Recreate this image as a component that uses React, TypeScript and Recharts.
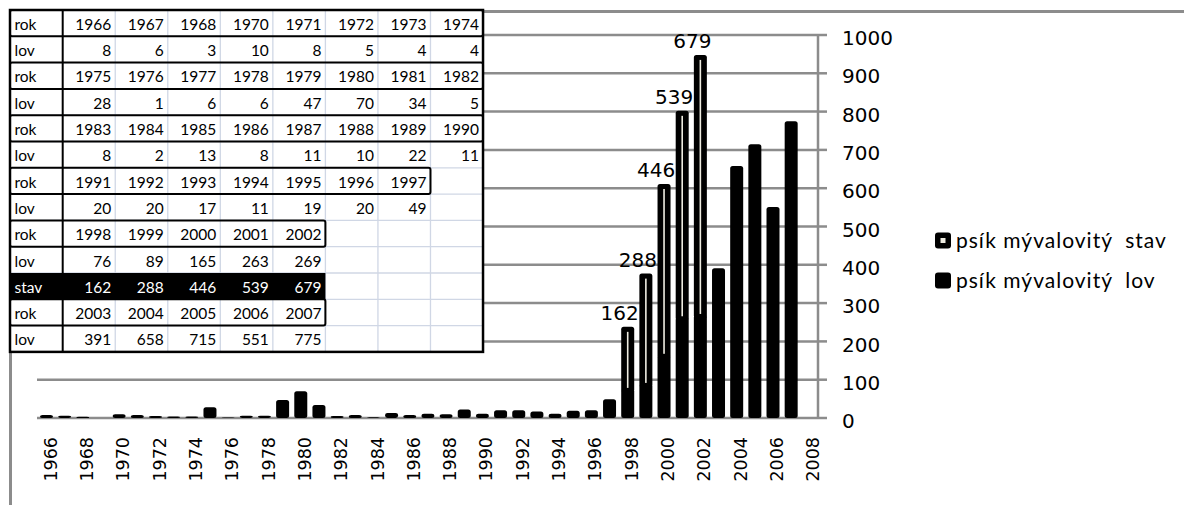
import React from 'react';
import { BarChart, Bar, XAxis, YAxis, CartesianGrid, LabelList } from 'recharts';

const years = [
  1966, 1967, 1968, 1969, 1970, 1971, 1972, 1973, 1974, 1975, 1976, 1977, 1978, 1979, 1980,
  1981, 1982, 1983, 1984, 1985, 1986, 1987, 1988, 1989, 1990, 1991, 1992, 1993, 1994, 1995,
  1996, 1997, 1998, 1999, 2000, 2001, 2002, 2003, 2004, 2005, 2006, 2007, 2008,
];
const lov: (number | null)[] = [
  8, 6, 3, null, 10, 8, 5, 4, 4, 28, 1, 6, 6, 47, 70,
  34, 5, 8, 2, 13, 8, 11, 10, 22, 11, 20, 20, 17, 11, 19,
  20, 49, 76, 89, 165, 263, 269, 391, 658, 715, 551, 775, null,
];
const stav: (number | null)[] = [
  null, null, null, null, null, null, null, null, null, null, null, null, null, null, null,
  null, null, null, null, null, null, null, null, null, null, null, null, null, null, null,
  null, null, 162, 288, 446, 539, 679, null, null, null, null, null, null,
];
const yTicks = [0, 100, 200, 300, 400, 500, 600, 700, 800, 900, 1000];
const tableGroups: [number, number][] = [
  [1966, 1974], [1975, 1982], [1983, 1990], [1991, 1997], [1998, 2002], [2003, 2007],
];
const seriesNames = { stav: 'psík mývalovitý  stav', lov: 'psík mývalovitý  lov' };

const data = years.map((year, i) => ({ year, lov: lov[i], stav: stav[i] }));

const GRID = '#8c8c8c';
const CREAM = '#eeece1';

type Row = { label: string; kind: string; values: (number | null)[] };
const tableRows: Row[] = tableGroups.flatMap(([a, b]) => {
  const idx = years.map((_, i) => i).filter((i) => years[i] >= a && years[i] <= b && lov[i] != null);
  const rows: Row[] = [
    { label: 'rok', kind: 'rok', values: idx.map((i) => years[i]) },
    { label: 'lov', kind: 'lov', values: idx.map((i) => lov[i]) },
  ];
  if (idx.some((i) => stav[i] != null)) rows.push({ label: 'stav', kind: 'stav', values: idx.map((i) => stav[i]) });
  return rows;
});

const T = { x: 10, y: 10, rowH: 26.3, labW: 52.7, colW: 52.54, cols: 8 };

function DataTable() {
  const W = T.labW + T.cols * T.colW;
  const H = tableRows.length * T.rowH;
  const light = '#d0d7e5';
  return (
    <svg width={500} height={370} style={{ position: 'absolute', left: 0, top: 0 }}>
      <rect x={T.x} y={T.y} width={W} height={H} fill="#fff" />
      {Array.from({ length: T.cols - 1 }, (_, c) => (
        <line key={'v' + c} x1={T.x + T.labW + (c + 1) * T.colW} x2={T.x + T.labW + (c + 1) * T.colW} y1={T.y} y2={T.y + H} stroke={light} strokeWidth={1.3} />
      ))}
      {tableRows.map((_, r) => (
        <line key={'h' + r} x1={T.x} x2={T.x + W} y1={T.y + r * T.rowH} y2={T.y + r * T.rowH} stroke={light} strokeWidth={1.3} />
      ))}
      {tableRows.map((row, r) =>
        row.kind === 'stav' ? (
          <rect key={'s' + r} x={T.x} y={T.y + r * T.rowH} width={T.labW + row.values.length * T.colW} height={T.rowH} fill="#000" />
        ) : null
      )}
      {tableRows.map((row, r) =>
        row.kind === 'rok' ? (
          <rect key={'b' + r} x={T.x} y={T.y + r * T.rowH} width={T.labW + row.values.length * T.colW} height={T.rowH} fill="none" stroke="#000" strokeWidth={2} rx={2} />
        ) : null
      )}
      <line x1={T.x + T.labW} x2={T.x + T.labW} y1={T.y} y2={T.y + H} stroke="#000" strokeWidth={2} />
      <rect x={T.x} y={T.y} width={W} height={H} fill="none" stroke="#000" strokeWidth={2.5} />
      {tableRows.map((row, r) => {
        const color = row.kind === 'stav' ? '#fff' : '#000';
        const by = T.y + r * T.rowH + 19.8;
        return (
          <g key={'t' + r} fontFamily="Lato, sans-serif" fontSize={15.5} fill={color}>
            <text x={T.x + 4.5} y={by}>{row.label}</text>
            {row.values.map((v, c) => (
              <text key={c} x={T.x + T.labW + (c + 1) * T.colW - 4} y={by} textAnchor="end">{v}</text>
            ))}
          </g>
        );
      })}
    </svg>
  );
}

const LovShape = (p: any) => {
  if (!p.height || p.height <= 0) return null;
  return <rect x={p.x} y={p.y} width={p.width} height={p.height} rx={2.5} fill="#000" />;
};

const StavShape = (p: any) => {
  if (!p.height || p.height <= 0) return null;
  const lw = 1.6;
  return (
    <g>
      <rect x={p.x} y={p.y} width={p.width} height={p.height + 3} rx={2.5} fill="#000" />
      <rect x={p.x + p.width / 2 - lw / 2} y={p.y + 5} width={lw} height={Math.max(0, p.height - 6)} fill={CREAM} />
    </g>
  );
};

const StavLabel = (p: any) => {
  if (p.value == null) return null;
  return (
    <text x={p.x + p.width / 2 - 8} y={p.y - 7} textAnchor="middle" fontFamily="DejaVu Sans" fontSize={20} fill="#000">
      {p.value}
    </text>
  );
};

const XTick = (p: any) => {
  const y = p.y + 19;
  return (
    <text x={p.x} y={y} transform={`rotate(-90 ${p.x} ${y})`} textAnchor="end" dy={10.5} fontFamily="DejaVu Sans" fontSize={17.5} fill="#000">
      {p.payload.value}
    </text>
  );
};

const YTick = (p: any) => (
  <text x={p.x} y={p.y + 3} dy="0.355em" textAnchor="start" fontFamily="DejaVu Sans" fontSize={20} fill="#000">
    {p.payload.value}
  </text>
);

function Legend() {
  const items = [
    { name: seriesNames.stav, top: 233, inner: true },
    { name: seriesNames.lov, top: 273, inner: false },
  ];
  return (
    <svg width={260} height={80} style={{ position: 'absolute', left: 925, top: 220 }}>
      {items.map((it, i) => (
        <g key={i} transform={`translate(-925 -220)`}>
          <rect x={935} y={it.top - 0.5} width={16} height={16} rx={3} fill="#000" />
          {it.inner ? <rect x={940.5} y={it.top + 5} width={5} height={5} fill={CREAM} /> : null}
          <text x={956} y={it.top + 15} fontFamily="Lato, sans-serif" fontSize={21} letterSpacing={1} fill="#000" style={{ whiteSpace: 'pre' }}>
            {it.name}
          </text>
        </g>
      ))}
    </svg>
  );
}

export default function App() {
  return (
    <div style={{ position: 'absolute', left: 0, top: 0, width: 1184, height: 505, overflow: 'hidden', background: '#fff' }}>
      <div style={{ position: 'absolute', left: 9, top: 9.5, width: 1400, height: 700, borderLeft: `3px solid ${GRID}`, borderTop: `3px solid ${GRID}` }} />
      <div style={{ position: 'absolute', left: 0, top: 0 }}>
        <BarChart width={1184} height={505} data={data} margin={{ top: 35, right: 266, left: 37, bottom: 7 }} barSize={13}>
          <CartesianGrid horizontal vertical={false} stroke={GRID} strokeWidth={2.5} />
          <XAxis dataKey="year" interval={1} tickLine={false} axisLine={false} tickSize={0} tickMargin={0} height={80} tick={<XTick />} />
          <YAxis
            orientation="right"
            width={100}
            domain={[0, 1000]}
            ticks={yTicks}
            axisLine={{ stroke: GRID, strokeWidth: 2.5 }}
            tickLine={{ stroke: GRID, strokeWidth: 2.5 }}
            tickSize={9}
            tickMargin={15}
            tick={<YTick />}
          />
          <Bar dataKey="lov" stackId="a" fill="#000" shape={<LovShape />} isAnimationActive={false} />
          <Bar dataKey="stav" stackId="a" fill={CREAM} shape={<StavShape />} isAnimationActive={false}>
            <LabelList dataKey="stav" content={<StavLabel />} />
          </Bar>
        </BarChart>
      </div>
      <DataTable />
      <Legend />
    </div>
  );
}
